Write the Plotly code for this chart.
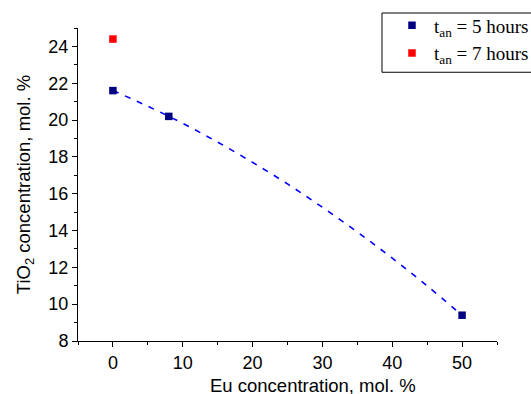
import plotly.graph_objects as go

# data
eu_5h = [0, 8, 50]
tio2_5h = [21.6, 20.2, 9.4]
eu_7h = [0]
tio2_7h = [24.4]
# fit curve
fit_x = [0, 5, 10, 15, 20, 25, 30, 35, 40, 45, 50]
fit_y = [21.6, 20.75, 19.82, 18.80, 17.70, 16.53, 15.26, 13.92, 12.50, 10.99, 9.4]

x_ticks = [0, 10, 20, 30, 40, 50]
y_ticks = [8, 10, 12, 14, 16, 18, 20, 22, 24]

fig = go.Figure()
fig.add_trace(go.Scatter(x=fit_x, y=fit_y, mode="lines",
                         line=dict(color="#0000ff", width=1.6, dash="6px,7px", shape="spline"),
                         showlegend=False, hoverinfo="skip"))
fig.add_trace(go.Scatter(x=eu_5h, y=tio2_5h, mode="markers", name="t<sub>an</sub> = 5 hours",
                         legendgroup="a",
                         marker=dict(symbol="square", size=7.5, color="#000080")))
fig.add_trace(go.Scatter(x=eu_7h, y=tio2_7h, mode="markers", name="t<sub>an</sub> = 7 hours",
                         legendgroup="b",
                         marker=dict(symbol="square", size=7.5, color="#ff0000")))

tick_font = dict(family="Liberation Sans, Arial, sans-serif", size=18, color="black")
title_font = dict(family="Liberation Sans, Arial, sans-serif", size=18.5, color="black")
fig.update_layout(
    width=531, height=394,
    margin=dict(l=78, r=34, t=28, b=53, autoexpand=False),
    paper_bgcolor="white", plot_bgcolor="white",
    xaxis=dict(range=[-5, 55], tickvals=x_ticks, ticks="outside", ticklen=5, tickwidth=1, tickcolor="black",
               showline=True, linecolor="black", linewidth=1, showgrid=False, zeroline=False,
               tickfont=tick_font,
               minor=dict(dtick=5, tick0=0, ticks="outside", ticklen=3, tickcolor="black", showgrid=False)),
    yaxis=dict(range=[8, 25], tickvals=y_ticks, ticks="outside", ticklen=5, tickwidth=1, tickcolor="black",
               showline=True, linecolor="black", linewidth=1, showgrid=False, zeroline=False,
               tickfont=tick_font,
               minor=dict(dtick=1, tick0=8, ticks="outside", ticklen=3, tickcolor="black", showgrid=False),
               title=dict(text="TiO<sub>2</sub> concentration, mol. %", font=title_font, standoff=12)),
    legend=dict(x=0.7255, y=1.069, xanchor="left", yanchor="top", borderwidth=0,
                bgcolor="rgba(0,0,0,0)", font=dict(family="Liberation Serif, Times New Roman, serif", size=19, color="black"),
                itemwidth=34, indentation=8, tracegroupgap=0),
    shapes=[dict(type="rect", xref="paper", yref="paper", x0=0.7255, x1=1.2, y0=0.8586, y1=1.0479,
                 line=dict(color="black", width=1), fillcolor="white", layer="below")],
    annotations=[dict(text="Eu concentration, mol. %", xref="paper", yref="paper", x=0.5597, y=0,
                      xanchor="center", yanchor="middle", yshift=-44, showarrow=False, font=title_font)],
)
fig.write_html("out.html", config={"displayModeBar": False},
               post_script="document.body.style.margin='0';document.body.style.overflow='hidden';")
